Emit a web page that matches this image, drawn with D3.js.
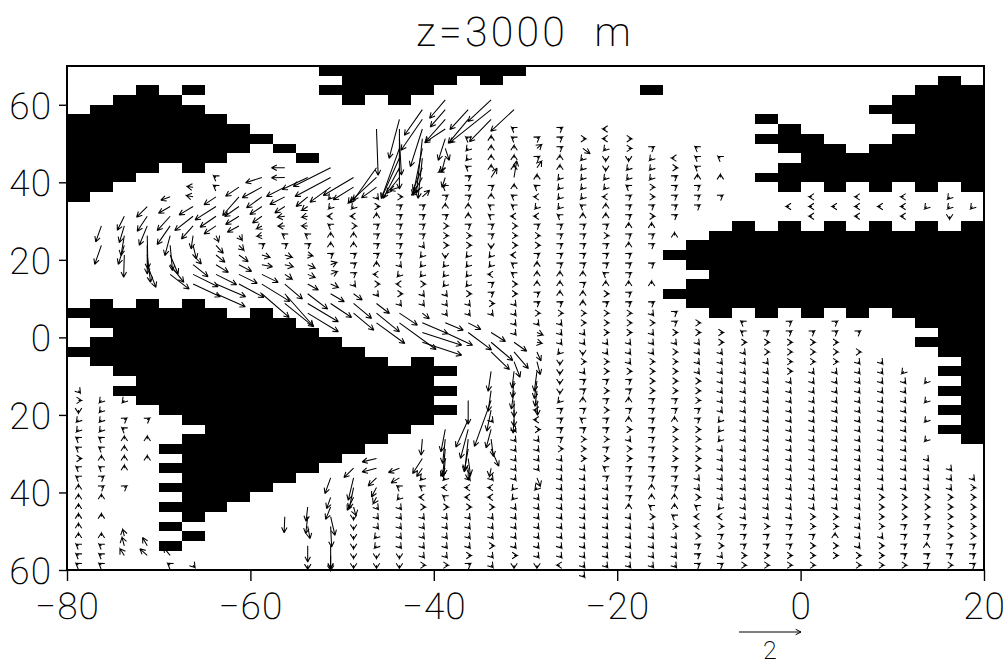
<!DOCTYPE html>
<html><head><meta charset="utf-8">
<script src="https://cdn.jsdelivr.net/npm/d3@7"></script>
<style>html,body{margin:0;background:#fff}svg{display:block}text{font-family:Roboto,"Liberation Sans",sans-serif;font-weight:200;fill:#000;text-rendering:geometricPrecision}</style>
</head><body><svg id="c" width="1008" height="665"></svg>
<script>
const titleText = "z=3000  m";
const xTicks = [-80,-60,-40,-20,0,20];
const yTicks = [60,40,20,0,-20,-40,-60];
const referenceLength = 2;
// land cells: [row, firstCol, lastCol, firstCol, lastCol, ...] on the 2.5 degree grid
const landRuns = [
[0,11,19],[1,12,16,18,18,38,38],[2,3,3,5,5,11,15,25,25,37,39],[3,2,4,12,12,14,14,36,39],[4,1,5,35,39],
[5,0,6,30,30,36,39],[6,0,7,31,31,37,39],[7,0,8,30,32,36,39],[8,0,7,9,9,31,33,35,39],[9,0,6,10,10,32,39],
[10,0,3,5,5,31,39],[11,0,2,30,39],[12,0,1,31,31,33,33,35,35,37,37,39,39],[13,0,0],
[16,29,29,31,31,33,33,35,35,37,37,39,39],[17,28,39],[18,27,39],[19,26,39],[20,27,39],[21,28,39],[22,27,39],[23,26,39],
[24,1,1,3,3,5,5,27,39],[25,0,6,8,8,28,28,30,30,32,32,34,34,36,39],[26,1,9,37,39],[27,2,10,38,39],[28,1,11,37,39],[29,0,12,38,39],
[30,1,13,15,15,39,39],[31,2,16,38,39],[32,3,15,39,39],[33,2,16,38,39],[34,3,15,39,39],[35,4,16,38,39],[36,5,15,39,39],[37,6,14,38,39],[38,5,13,39,39],
[39,4,12],[40,5,11],[41,4,10],[42,5,9],[43,4,8],[44,5,7],[45,4,6],[46,5,5],[47,4,4],[48,5,5],[49,4,4]];
// weak flow read as compass direction (keypad digit), per column: [col, firstRow, digits, ...]
const weakDirections = {1:[-.064,-.077],2:[0,-.1],3:[.064,-.077],4:[-.1,0],6:[.1,0],7:[-.082,.057],8:[0,.1],9:[.082,.057]};
const weakColumns = [
[0,33,"3621177677888888777"],[1,34,"111177879 98.8.8777".replace(" ","")],[2,34,"1.978888.9"],[3,36,"9.8.8"],[4,51,"7"],[5,51,"3"],
[6,11,"77"],[8,18,"9"],[9,17,"79"],[10,17,"79"],[11,13,"1147889"],[12,14,"146889993"],[12,46,"222222"],
[13,13,"36899998463"],[13,45,"3331122"],[14,13,"699999931463"],[14,43,"713333322"],[15,14,"99993111633"],[15,42,"1746333336"],
[16,12,"79896662111333"],[16,42,"1476333336"],[17,7,"7117999889661111633"],[17,42,"3446333369"],
[18,7,"8888"],[18,12,"98779921149963"],[18,36,"3"],[18,42,"3446333633"],
[19,6,"77888"],[19,12,"8774666477663333"],[19,37,"333333113333362"],
[20,7,"9"],[20,9,"9"],[20,11,"8741496698889963"],[20,35,"4463333"],[20,43,"133333332"],
[21,6,"9998811117999998889633312222199996333333333334"],
[22,7,"6.11111789999989886633263998979666333333333333"],
[23,6,"4412211488969997869666336696969969679333333333"],
[24,7,"662117999898999899666333699898636699998333333"],
[25,8,"9111669689 9.9.8.9363336666999999999887633333".replace(" ","")],
[26,9,"4699999.8"],[26,25,"996366666998666699988763333"],
[27,8,"7778999"],[27,26,"66333366699666663367446999"],
[28,9,"7.8.9"],[28,27,"6633333331113333331469639"],
[29,26,"77633333333333333333399966"],[30,27,"9663333333333333333369966"],
[31,14,"4"],[31,26,"99666633333333333333399966"],[32,13,"444"],[32,27,"9666333333333333333669666"],
[33,14,"4"],[33,26,"9966633333333333333366866"],[34,13,"444"],[34,27,"9.63333333333333333333366"],
[35,14,"4"],[35,30,"3333333333333366663666"],[36,13,"444"],[36,31,"133333333333366699996"],
[37,14,"1"],[37,32,"1.1.1.1.333366699899"],[38,13,"112"],[38,41,"33366666996"],[39,14,"1"],[39,42,"3666666999"]];
// stronger flow: [col, row, u, v], u and v in 1/93 of a velocity unit
const readingStep = 1/93;
const strongVectors = [
[1,16,-17,-48],[1,18,-20,-57],
[2,15,-21,-42],[2,16,-15,-50],[2,17,-10,-60],[2,18,-18,-57],[2,19,-2,-67],[2,48,-5,20],[2,49,-7,25],[2,50,-13,20],
[3,14,-32,-32],[3,15,-30,-45],[3,16,-24,-58],[3,17,2,-100],[3,18,0,-86],[3,19,10,-82],[3,20,26,-68],[3,49,-14,25],[3,50,-22,20],
[4,13,-28,-10],[4,14,-35,-20],[4,15,-39,-43],[4,16,-39,-56],[4,17,-16,-60],[4,18,7,-76],[4,19,24,-57],[4,20,41,-53],[4,21,57,-44],[4,50,-21,25],
[5,12,-18,2],[5,13,-20,4],[5,14,-42,-25],[5,15,-55,-43],[5,16,-35,-39],[5,17,-6,-40],[5,18,10,-41],[5,19,25,-27],[5,20,45,-36],[5,21,75,-37],[5,22,82,-38],
[6,13,-36,-24],[6,14,-63,-40],[6,15,-48,-33],[6,16,-36,-24],[6,17,8,-18],[6,18,22,-24],[6,19,27,-22],[6,20,37,-23],[6,21,62,-31],[6,22,89,-38],[6,23,88,-39],
[7,12,-40,-27],[7,13,-49,-56],[7,14,-43,-30],[7,15,-40,-25],[7,16,-35,-19],[7,17,10,-14],[7,18,15,-15],[7,19,28,-20],[7,20,38,-20],[7,21,55,-27],[7,22,75,-40],
[8,11,-49,-16],[8,12,-59,-32],[8,13,-46,-33],[8,14,-36,-24],[8,15,-28,-20],[8,16,-16,-9],[8,17,-15,-2],[8,19,24,-7],[8,20,32,-6],[8,21,49,-24],[8,22,84,-52],[8,23,82,-71],
[9,10,-40,0],[9,11,-40,-1],[9,12,-55,-28],[9,13,-45,-23],[9,14,-30,-19],[9,15,-22,-3],[9,16,-20,-1],[9,19,22,-7],[9,20,25,-6],[9,21,22,-14],[9,22,53,-45],[9,23,85,-96],[9,24,87,-70],[9,46,-2,-48],
[10,11,-77,-36],[10,13,-35,-29],[10,14,-18,-12],[10,15,-18,-3],[10,16,-18,0],[10,19,15,-2],[10,20,22,-10],[10,21,22,-9],[10,22,32,-18],[10,23,60,-46],[10,24,92,-55],[10,25,92,-56],
[10,45,-5,-43],[10,46,-6,-51],[10,47,7,-37],[10,49,0,-49],[10,51,0,-12],
[11,10,-112,-56],[11,11,-107,-57],[11,12,-62,-45],[11,20,18,7],[11,21,20,9],[11,22,23,-10],[11,23,41,-24],[11,24,63,-42],
[11,42,-17,-47],[11,44,-12,-34],[11,45,-15,-37],[11,46,13,-56],[11,47,3,-62],[11,49,0,-69],[11,50,0,-40],[11,51,0,-16],
[12,11,-91,-54],[12,12,-61,-38],[12,13,-16,-19],[12,23,26,-19],[12,24,54,-45],[12,25,61,-51],
[12,41,-29,-28],[12,42,-16,-67],[12,43,-13,-63],[12,44,-19,-39],[12,45,7,-25],
[13,6,5,-139],[13,10,-70,-98],[13,11,-80,-74],[13,12,-45,-32],[13,24,39,-30],[13,25,69,-56],[13,26,85,-62],
[13,40,-43,-10],[13,41,-43,-11],[13,42,-25,-24],[13,43,-15,-28],[13,44,-10,-19],
[14,5,-31,-117],[14,6,0,-180],[14,7,6,-109],[14,8,-54,-150],[14,9,-54,-121],[14,10,-49,-92],[14,11,-39,-48],[14,12,-29,-9],[14,25,54,-36],[14,26,110,-80],
[14,41,-33,-13],[14,42,-25,-15],
[15,4,-54,-77],[15,5,-64,-93],[15,6,-36,-113],[15,7,-18,-164],[15,8,-28,-140],[15,9,-13,-121],[15,10,-28,-67],[15,11,-28,-48],[15,12,-33,-24],[15,13,22,20],
[15,25,21,-17],[15,26,77,-33],[15,27,118,-38],[15,28,118,-39],[15,38,-4,-48],[15,40,-29,-45],[15,41,-17,-25],
[16,3,-47,-55],[16,4,-45,-52],[16,5,-60,-68],[16,6,-62,-41],[16,7,-21,-65],[16,8,12,-36],[16,9,-11,-42],[16,10,-20,-13],[16,11,-10,-30],[16,26,54,-22],[16,27,82,-38],
[16,37,-13,-67],[16,38,-8,-73],[16,39,-8,-84],[16,40,-4,-50],[16,41,-14,-24],
[17,4,-55,-60],[17,5,-60,-72],[17,26,38,-20],[17,27,70,-52],
[17,34,0,-72],[17,36,-37,-82],[17,37,-23,-87],[17,38,-10,-93],[17,39,-12,-69],[17,40,7,-50],[17,41,0,-35],
[18,3,-70,-65],[18,4,-125,-100],[18,5,-65,-67],[18,11,18,28],[18,27,43,-27],[18,28,65,-55],[18,29,55,-53],[18,31,-9,-60],[18,33,-9,-62],[18,34,-50,-138],[18,35,-13,-63],[18,37,-15,-55],[18,38,7,-52],[18,39,23,-52],[18,41,-5,-25],
[19,4,-70,-65],[19,11,8,50],[19,28,38,-27],[19,29,43,-50],[19,30,18,-47],[19,31,-6,-50],[19,32,-5,-50],[19,33,-8,-55],[19,34,0,-50],[19,35,0,-50],[19,36,-3,-40],
[20,8,14,12],[20,10,14,20],[20,27,18,-7],[20,28,15,-3],[20,29,12,-27],[20,30,10,-39],[20,31,-8,-60],[20,32,-8,-53],[20,33,-6,-47],[20,34,2,-45],[20,42,10,-25],
[22,8,22,-16]];

const svg=d3.select("#c");
const x=d3.scaleLinear().domain([-80,20]).range([67,984]);
const y=d3.scaleLinear().domain([70,-60]).range([66,570]);
const lenScale=d3.scaleLinear().domain([0,referenceLength]).range([0,62]);
const step=2.5;
const lonL=c=>-80+step*c, latT=r=>70-step*r;
const lonC=c=>lonL(c)+step/2, latC=r=>latT(r)-step/2;

// land
const cells=[];
landRuns.forEach(([r,...runs])=>{for(let j=0;j<runs.length;j+=2)cells.push({r,a:runs[j],b:runs[j+1]});});
svg.append("g").selectAll("rect").data(cells).join("rect")
 .attr("x",d=>x(lonL(d.a))).attr("y",d=>y(latT(d.r)))
 .attr("width",d=>x(lonL(d.b+1))-x(lonL(d.a))).attr("height",d=>y(latT(d.r+1))-y(latT(d.r)))
 .attr("fill","#000").attr("shape-rendering","crispEdges");

// vectors
const vectors=[];
weakColumns.forEach(([c,r0,s])=>{[...s].forEach((ch,j)=>{if(ch==='.')return;const w=weakDirections[ch];vectors.push({c,r:r0+j,u:w[0],v:w[1]});});});
strongVectors.forEach(([c,r,u,v])=>vectors.push({c,r,u:u*readingStep,v:v*readingStep}));
function arrowPath(x0,y0,x1,y1){
 const dx=x1-x0,dy=y1-y0,L=Math.hypot(dx,dy),a=Math.atan2(dy,dx);
 const ha=(L<9?33:27)*Math.PI/180,b=L<9?6:6;
 const p=t=>`L${x1-b*Math.cos(a+t)},${y1-b*Math.sin(a+t)}`;
 return `M${x0},${y0}L${x1},${y1}${p(ha)}M${x1},${y1}${p(-ha)}`;
}
svg.append("g").selectAll("path").data(vectors).join("path")
 .attr("fill","none").attr("stroke","#000").attr("stroke-width",1.05)
 .attr("d",d=>{const X=x(lonC(d.c)),Y=y(latC(d.r));
   return arrowPath(X,Y,X+lenScale(d.u),Y-lenScale(d.v));});

// frame and axes
svg.append("rect").attr("x",67).attr("y",66).attr("width",917).attr("height",504)
 .attr("fill","none").attr("stroke","#000").attr("stroke-width",2);
const fmtX=d=>d<0?"\u2212"+(-d):""+d;
const ax=d3.axisBottom(x).tickValues(xTicks).tickFormat(fmtX).tickSize(11).tickSizeOuter(0).tickPadding(3);
const ay=d3.axisLeft(y).tickValues(yTicks).tickFormat(d=>""+Math.abs(d)).tickSize(8).tickSizeOuter(0).tickPadding(7);
const gx=svg.append("g").attr("transform","translate(0,570)").call(ax);
const gy=svg.append("g").attr("transform","translate(67,0)").call(ay);
[gx,gy].forEach(g=>{g.select(".domain").remove();g.selectAll("line").attr("stroke","#000").attr("stroke-width",1.4);
 g.selectAll("text").attr("font-size",37).attr("letter-spacing",1).style("font-family","Roboto").style("font-weight",200);});
gx.selectAll("text").attr("dy","0.95em");
gy.selectAll("text").attr("dy","0.36em");
svg.append("text").attr("x",525).attr("y",46).attr("text-anchor","middle").attr("font-size",41).attr("letter-spacing",3.2).attr("xml:space","preserve").style("white-space","pre").text(titleText);
// reference arrow
const refY=632,refX0=739;
svg.append("path").attr("fill","none").attr("stroke","#000").attr("stroke-width",1)
 .attr("d",arrowPath(refX0,refY,refX0+lenScale(referenceLength),refY));
svg.append("text").attr("x",770).attr("y",659).attr("text-anchor","middle").attr("font-size",25).text(referenceLength);
</script></body></html>
